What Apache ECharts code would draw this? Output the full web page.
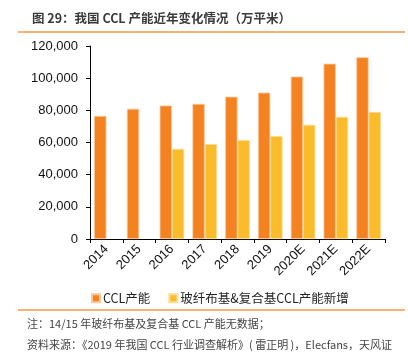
<!DOCTYPE html>
<html><head><meta charset="utf-8">
<script src="https://cdn.jsdelivr.net/npm/echarts@6/dist/echarts.min.js"></script>
<style>html,body{margin:0;padding:0;background:#fff}#c{width:408px;height:355px}</style>
</head><body><div id="c"></div>
<script>
const categories = ['2014','2015','2016','2017','2018','2019','2020E','2021E','2022E'];
const cclCapacity = [76500, 81000, 83000, 84000, 88500, 91000, 101000, 109000, 113000];
const glassFiberAdded = [null, null, 56000, 59000, 61500, 64000, 71000, 76000, 79000];
const yTicks = [0, 20000, 40000, 60000, 80000, 100000, 120000];
const seriesNames = ['CCL产能', '玻纤布基&复合基CCL产能新增'];

const chart = echarts.init(document.getElementById('c'));
chart.setOption({
  animation: false,
  backgroundColor: '#fff',
  title: {
    text: '图 29：我国 CCL 产能近年变化情况（万平米）',
    left: 27, top: 7,
    textStyle: {fontSize: 12.5, fontWeight: 'bold', color: '#3a3a3a', fontFamily: 'Noto Sans CJK SC'}
  },
  graphic: [
    {type: 'line', shape: {x1: 18, y1: 32, x2: 405, y2: 32}, style: {stroke: '#F79646', lineWidth: 1.5}},
    {type: 'line', shape: {x1: 18, y1: 310, x2: 405, y2: 310}, style: {stroke: '#F79646', lineWidth: 1.5}},
    {type: 'text', left: 27, top: 318, style: {text: '注：14/15 年玻纤布基及复合基 CCL 产能无数据；', fontSize: 11, fill: '#444', fontFamily: 'Noto Sans CJK SC'}},
    {type: 'text', left: 27, top: 339, style: {text: '资料来源：《2019 年我国 CCL 行业调查解析》( 雷正明 )，Elecfans，天风证', fontSize: 11, fill: '#444', fontFamily: 'Noto Sans CJK SC'}}
  ],
  legend: {
    data: seriesNames,
    left: 86, top: 287,
    itemWidth: 8, itemHeight: 8, itemGap: 18,
    icon: 'rect',
    textStyle: {fontSize: 12.5, color: '#222', fontFamily: 'Noto Sans CJK SC', padding: [0,0,0,-2]}
  },
  grid: {left: 90, right: 23, top: 46, bottom: 116, containLabel: false},
  xAxis: {
    type: 'category', data: categories,
    axisLine: {show: true, lineStyle: {color: '#000', width: 1}},
    axisTick: {show: true, length: 4, lineStyle: {color: '#000'}},
    axisLabel: {rotate: 45, fontSize: 13, color: '#111', fontFamily: 'Liberation Sans', margin: 8, interval: 0}
  },
  yAxis: {
    type: 'value', min: 0, max: 120000, interval: 20000,
    splitLine: {show: false},
    axisLine: {show: true, lineStyle: {color: '#000', width: 1}},
    axisTick: {show: true, length: 4, lineStyle: {color: '#000'}},
    axisLabel: {fontSize: 13, color: '#111', fontFamily: 'Liberation Sans', margin: 12,
      formatter: v => yTicks.includes(v) ? v.toLocaleString('en-US') : ''}
  },
  series: [
    {name: seriesNames[0], type: 'bar', data: cclCapacity, barGap: '0%', barCategoryGap: '25%',
     itemStyle: {color: '#F58220', borderColor: '#FAC89A', borderWidth: 0.8}},
    {name: seriesNames[1], type: 'bar', data: glassFiberAdded,
     itemStyle: {color: '#FBBC2C', borderColor: '#FCDC94', borderWidth: 0.8}}
  ]
});
</script></body></html>
